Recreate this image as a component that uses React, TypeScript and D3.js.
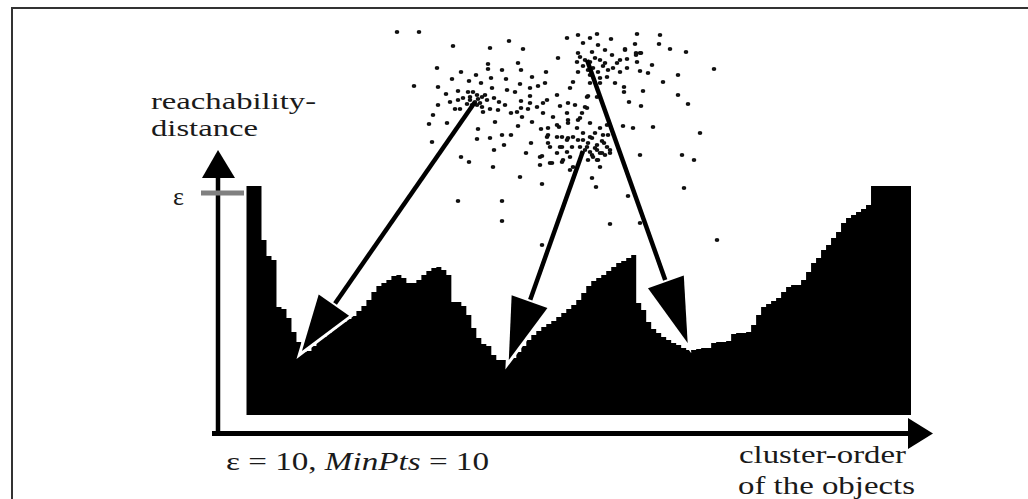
import React from 'react';
import * as d3 from 'd3';

// Reachability-distance per object, in cluster order (epsilon = 10, undefined values capped above epsilon)
const reachability: number[] = [
  10.32, 10.32, 10.32, 7.88, 7.16, 6.98, 4.86, 4.77, 4.37, 3.74,
  3.29, 2.84, 2.88, 3.11, 3.38, 3.51, 3.69, 3.87, 4.05, 4.19,
  4.32, 4.46, 4.68, 4.91, 5.18, 5.54, 5.81, 5.95, 6.08, 6.26,
  6.31, 6.17, 5.95, 5.95, 6.08, 6.31, 6.49, 6.62, 6.67, 6.53,
  6.31, 5.09, 5.09, 4.91, 4.50, 3.92, 3.47, 3.20, 3.11, 2.70,
  2.48, 2.48, 2.48, 2.57, 2.84, 3.11, 3.38, 3.60, 3.78, 3.96,
  4.10, 4.23, 4.41, 4.59, 4.77, 4.95, 5.18, 5.50, 5.81, 6.04,
  6.17, 6.31, 6.49, 6.67, 6.85, 6.94, 7.07, 7.21, 5.05, 4.73,
  4.19, 3.87, 3.69, 3.51, 3.38, 3.24, 3.15, 3.02, 2.93, 2.93,
  2.97, 3.02, 3.02, 3.24, 3.29, 3.29, 3.33, 3.65, 3.69, 3.69,
  3.74, 4.05, 4.50, 4.86, 5.00, 5.14, 5.27, 5.54, 5.77, 5.86,
  5.86, 6.08, 6.44, 6.85, 7.07, 7.43, 7.66, 7.97, 8.24, 8.65,
  8.87, 9.01, 9.14, 9.28, 9.46, 10.32, 10.32, 10.32, 10.32, 10.32,
  10.32, 10.32, 10.32,
];

const EPSILON = 10;
const MIN_PTS = 10;

// The 2-D data set (feature space units)
const scatterPoints: [number, number][] = [
  [-0.3, 3.2], [1.9, 3.2], [5.3, 4.6], [9.0, 4.8], [10.9, 4.1], [12.3, 4.9], [16.7, 3.8], [17.8, 3.5], [19.0, 3.8], [19.7, 3.4], [21.1, 3.9], [23.7, 3.4], [26.0, 3.5],
  [18.3, 4.3], [19.8, 4.5], [23.5, 4.4], [25.9, 4.4], [27.0, 4.9], [28.6, 5.2], [31.4, 6.9],
  [3.7, 6.8], [6.1, 7.2], [7.6, 7.5], [8.8, 6.4], [8.8, 6.9], [10.2, 7.0], [11.8, 6.3], [12.1, 7.0], [13.2, 7.7], [14.6, 7.2], [15.8, 5.8],
  [1.4, 8.6], [3.8, 8.7], [5.2, 7.9], [6.9, 8.1], [8.1, 8.3], [9.1, 7.8], [9.2, 8.8], [10.6, 7.9], [10.7, 9.0], [11.5, 9.2], [12.0, 8.4], [13.0, 8.8], [13.8, 8.6], [14.5, 8.3],
  [4.6, 9.4], [5.8, 9.1], [6.8, 9.2], [5.0, 10.2], [5.8, 10.0], [6.3, 9.8], [7.0, 9.7], [7.7, 9.5], [8.2, 9.7], [8.7, 10.0], [9.4, 9.8], [9.9, 10.2], [10.5, 10.5], [12.1, 10.1], [13.0, 9.6], [15.7, 9.5],
  [3.8, 10.5], [5.5, 10.9], [6.0, 10.9], [7.7, 10.5], [8.2, 10.7], [8.3, 11.2], [9.0, 10.9], [9.8, 11.0], [11.1, 11.3], [12.1, 10.8], [12.8, 10.9], [14.3, 10.3], [14.3, 11.3], [15.3, 11.7], [16.0, 10.6], [16.8, 10.3],
  [3.3, 11.5], [2.9, 12.4], [4.7, 12.3], [9.5, 12.2], [7.8, 12.9], [9.0, 13.8], [7.7, 13.9], [10.2, 13.5], [11.1, 13.5], [11.8, 12.6], [12.2, 11.7], [13.2, 12.2], [14.1, 12.9], [14.8, 12.8], [15.9, 12.7], [16.8, 12.0],
  [14.8, 13.5], [14.8, 14.3], [16.2, 13.7], [16.8, 13.8], [16.2, 14.7], [17.2, 14.7], [15.7, 15.3], [17.0, 15.7],
  [3.2, 14.2], [10.4, 14.5], [9.4, 15.0], [13.1, 14.3], [12.6, 15.3], [14.2, 15.6], [14.0, 16.5], [15.0, 16.3], [16.2, 16.2],
  [6.1, 15.7], [6.9, 16.2], [9.3, 16.7], [12.0, 17.7], [14.2, 18.4], [5.8, 20.1], [10.2, 20.1], [10.2, 22.1], [14.2, 24.5],
  [17.8, 5.3], [19.2, 5.2], [20.5, 5.0], [22.5, 5.0], [24.0, 5.3], [21.2, 5.5], [22.0, 6.0], [23.7, 6.2], [25.2, 6.5], [17.7, 6.2],
  [18.0, 5.7], [18.5, 6.0], [19.0, 6.2], [19.5, 5.8], [20.0, 6.0], [20.5, 6.3], [18.3, 6.6], [18.8, 7.0], [19.3, 6.8], [19.8, 7.2], [20.3, 6.6], [20.8, 7.0], [17.8, 7.2], [19.0, 7.5], [20.0, 7.8], [21.3, 6.8], [21.7, 6.3], [22.0, 7.2],
  [22.7, 6.8], [24.0, 7.1], [24.8, 7.3], [26.3, 8.2], [27.8, 7.5], [20.7, 7.7], [21.5, 8.3], [20.0, 8.3], [22.4, 8.7], [22.4, 9.2], [19.0, 8.3], [18.8, 9.6], [19.7, 9.7], [24.3, 9.1], [22.9, 10.2], [24.1, 10.6], [27.8, 9.5], [28.8, 10.4],
  [18.5, 10.7], [18.2, 11.3], [17.8, 12.0], [19.0, 12.3], [22.3, 12.6], [23.3, 12.8], [25.3, 12.7], [20.8, 13.5], [30.0, 13.3],
  [18.3, 14.0], [18.8, 14.3], [19.2, 13.8], [19.7, 14.5], [20.2, 14.1], [20.7, 14.7], [18.5, 15.0], [19.0, 15.2], [19.5, 14.8], [20.0, 15.3], [20.5, 15.5], [19.3, 15.7], [19.8, 16.0], [18.8, 16.0], [18.0, 14.7], [21.0, 15.0], [20.3, 13.5], [19.5, 13.3],
  [24.0, 15.5], [28.2, 15.5], [29.4, 16.0], [20.0, 16.7], [19.2, 17.8], [19.6, 18.7], [22.8, 19.6], [28.4, 18.8], [21.0, 22.4], [24.0, 22.3], [31.7, 24.0],
  [14.7, 10.0], [17.0, 8.8], [17.3, 8.2], [18.7, 9.7], [16.7, 11.3], [17.5, 10.5], [18.7, 10.8], [18.0, 11.8], [13.7, 10.7], [13.0, 10.3], [11.7, 11.2],
  [15.7, 12.5], [16.8, 12.3], [17.7, 12.8], [20.0, 12.8], [20.7, 12.5], [20.4, 14.3], [21.0, 15.3], [20.2, 15.3],
  [17.3, 16.7], [17.0, 17.0], [15.2, 16.3], [14.0, 15.7], [16.0, 14.7], [16.7, 15.2], [17.8, 14.0], [18.7, 14.7], [18.2, 15.3], [19.2, 15.5], [19.7, 15.0], [19.0, 13.7], [18.3, 13.3], [17.3, 13.7], [16.7, 14.0], [15.7, 13.7], [14.7, 13.7], [15.0, 14.7], [19.7, 16.0], [16.3, 16.0],
  [22.7, 5.9], [23.6, 5.5], [24.1, 5.3], [22.5, 4.9], [23.6, 5.3],
  [7.0, 10.0], [7.5, 10.2], [8.0, 10.3], [7.2, 10.5], [6.7, 10.4], [8.5, 9.5], [7.3, 9.2], [7.8, 9.9],
];

// Arrows: cluster centre in the data set -> valley in the reachability plot
const arrowFrom: [number, number][] = [[7.5, 10.2], [18.3, 15.1], [18.7, 6.0]];
const arrowToIndex: number[] = [11.1, 52.5, 88.3];
const arrowToValue: number[] = [2.88, 2.48, 3.24];

const yLabelLines = ['reachability-', 'distance'];
const xLabelLines = ['cluster-order', 'of the objects'];

export default function App() {
  const W = 1028, H = 499;
  const x = d3.scaleLinear().domain([0, reachability.length]).range([246.5, 911]);
  const y = d3.scaleLinear().domain([0, EPSILON]).range([415, 193]);
  const sx = d3.scaleLinear().domain([0, 33]).range([400, 730]);
  const sy = d3.scaleLinear().domain([0, 26]).range([0, 260]);

  const pts: [number, number][] = reachability.map((v, i) => [i, v] as [number, number]);
  pts.push([reachability.length, reachability[reachability.length - 1]]);
  const area = d3.area<[number, number]>()
    .x(d => x(d[0]))
    .y0(y(0))
    .y1(d => y(d[1]))
    .curve(d3.curveStepAfter);

  const headLen = [56, 62, 65];
  const headHalf = [18.5, 19, 19];

  const arrows = arrowFrom.map((f, i) => {
    const x0 = sx(f[0]), y0 = sy(f[1]);
    const tx = x(arrowToIndex[i]), ty = y(arrowToValue[i]);
    const dx = x0 - tx, dy = y0 - ty;
    const len = Math.sqrt(dx * dx + dy * dy);
    const ux = dx / len, uy = dy / len;
    const bx = tx + ux * headLen[i], by = ty + uy * headLen[i];
    const px = -uy, py = ux;
    const h = headHalf[i];
    const poly = `${tx},${ty} ${bx + px * h},${by + py * h} ${bx - px * h},${by - py * h}`;
    return { x0, y0, bx: bx + ux * 2, by: by + uy * 2, poly };
  });

  const fontStyle: React.CSSProperties = { fontFamily: '"Liberation Serif", "Times New Roman", Times, serif' };
  const txt = '#1a1a1a';
  const fs = 26;

  return (
    <svg width={W} height={H} style={{ position: 'absolute', left: 0, top: 0, display: 'block', background: '#fff' }}>
      <rect x={0} y={0} width={W} height={H} fill="#fff" />
      {/* frame */}
      <path d={`M12,${H} V8 H${W}`} fill="none" stroke="#333" strokeWidth={2} />

      {/* scatter of the data set */}
      <g fill="#111">
        {scatterPoints.map((p, i) => (
          <ellipse key={i} cx={sx(p[0])} cy={sy(p[1])} rx={2.3} ry={1.9} />
        ))}
      </g>

      {/* reachability plot */}
      <path d={area(pts) || ''} fill="#000" />

      {/* axes */}
      <line x1={218} y1={436} x2={218} y2={176} stroke="#000" strokeWidth={4.5} />
      <polygon points="218,150 202,178 235,178" fill="#000" />
      <line x1={212} y1={433.5} x2={910} y2={433.5} stroke="#000" strokeWidth={5} />
      <polygon points="933,433.5 908,418 908,449" fill="#000" />

      {/* epsilon tick */}
      <rect x={201} y={y(EPSILON) - 2.5} width={43} height={5} fill="#808080" />
      <text x={173} y={205} style={fontStyle} fontSize={fs} fill={txt}>ε</text>

      {/* arrows */}
      {arrows.map((a, i) => (
        <g key={i}>
          <polygon points={a.poly} fill="#000" stroke="#fff" strokeWidth={6} strokeLinejoin="miter" style={{ paintOrder: 'stroke' }} />
          <line x1={a.x0} y1={a.y0} x2={a.bx} y2={a.by} stroke="#000" strokeWidth={4.5} />
        </g>
      ))}

      {/* labels */}
      <text x={151} y={109} style={fontStyle} fontSize={24} fill={txt} textLength={165} lengthAdjust="spacingAndGlyphs">{yLabelLines[0]}</text>
      <text x={151} y={136} style={fontStyle} fontSize={24} fill={txt} textLength={107} lengthAdjust="spacingAndGlyphs">{yLabelLines[1]}</text>

      <text x={226} y={470} style={fontStyle} fontSize={fs} fill={txt} textLength={263} lengthAdjust="spacingAndGlyphs">
        {`ε = ${EPSILON}, `}<tspan fontStyle="italic">MinPts</tspan>{` = ${MIN_PTS}`}
      </text>

      <text x={739} y={463} style={fontStyle} fontSize={fs} fill={txt} textLength={167} lengthAdjust="spacingAndGlyphs">{xLabelLines[0]}</text>
      <text x={738} y={494} style={fontStyle} fontSize={fs} fill={txt} textLength={177} lengthAdjust="spacingAndGlyphs">{xLabelLines[1]}</text>
    </svg>
  );
}
